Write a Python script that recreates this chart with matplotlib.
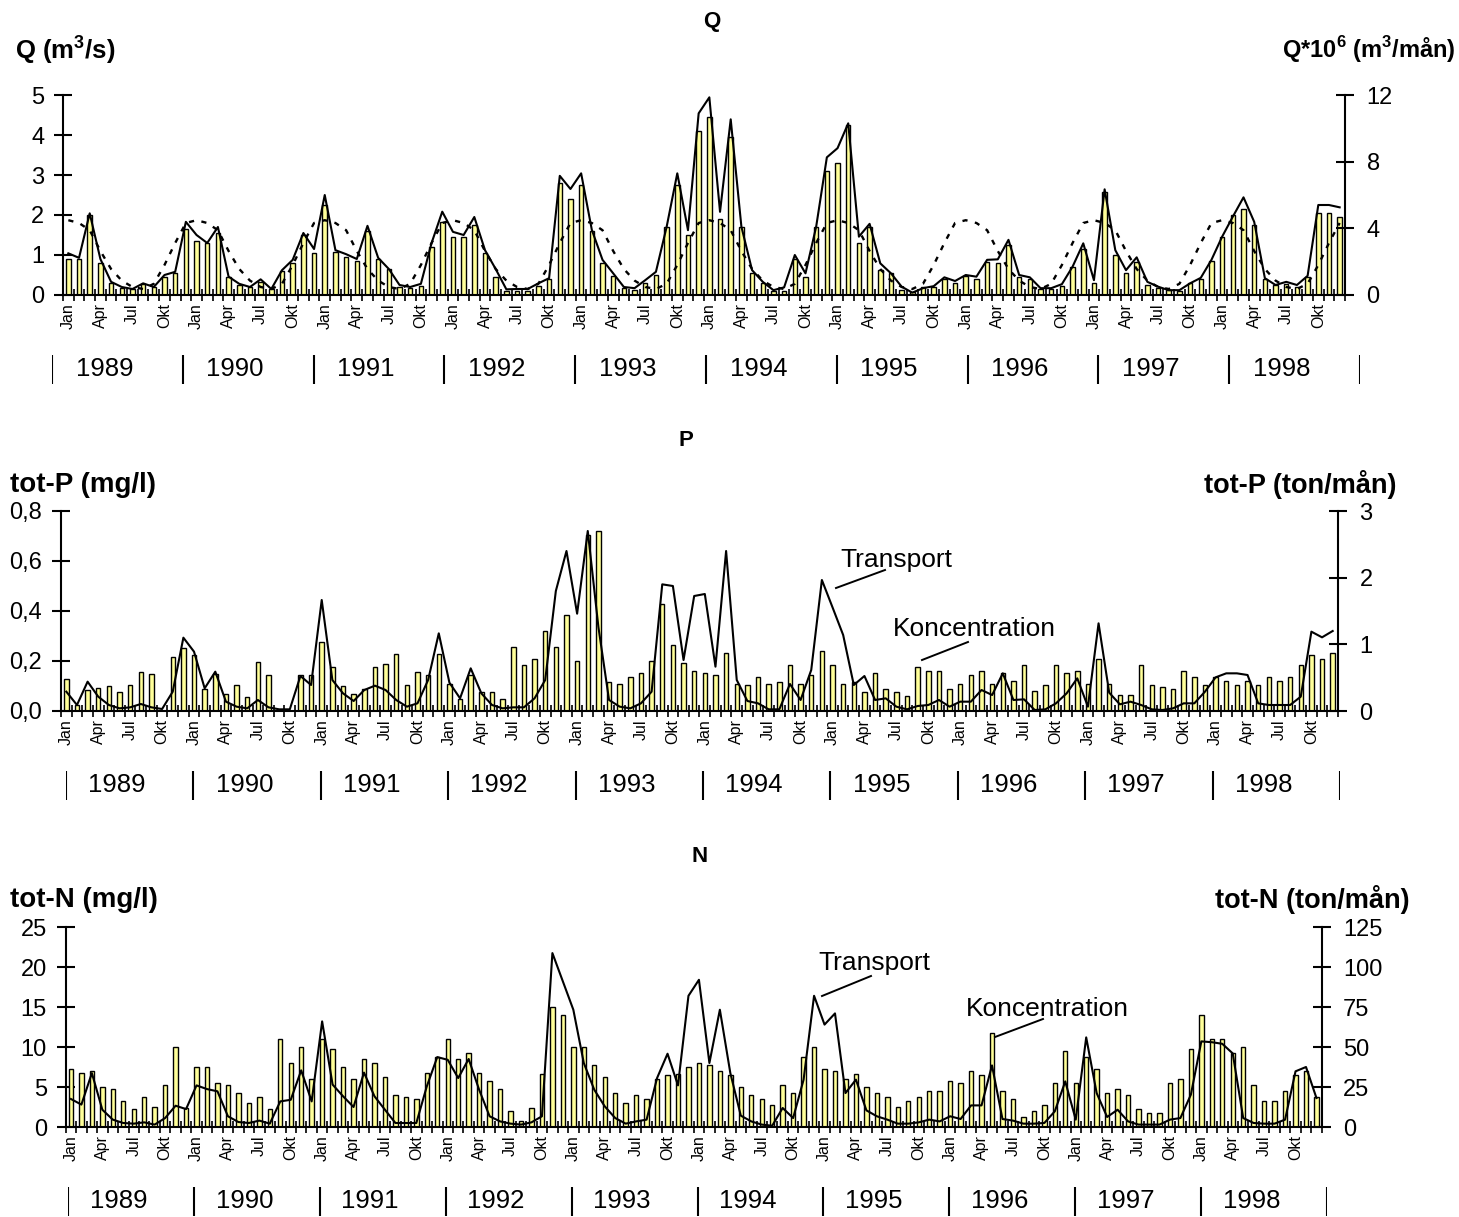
import numpy as np
import matplotlib
matplotlib.use('Agg')
import matplotlib.pyplot as plt
from matplotlib.lines import Line2D

plt.rcParams['font.family'] = ['Liberation Sans', 'DejaVu Sans']
plt.rcParams['mathtext.fontset'] = 'custom'
plt.rcParams['mathtext.rm'] = 'Liberation Sans'
plt.rcParams['mathtext.bf'] = 'Liberation Sans:bold'

# data: monthly values Jan 1989 - Dec 1998
years = ['1989', '1990', '1991', '1992', '1993', '1994', '1995', '1996', '1997', '1998']
month_labels = ['Jan', 'Apr', 'Jul', 'Okt']

# Q: flow (m3/s, bars), volume (10^6 m3/month, line), long-term monthly mean (m3/s, dashed)
q_flow = [0.89, 0.9, 2.0, 0.81, 0.3, 0.17, 0.15, 0.27, 0.2, 0.44, 0.56, 1.65,
          1.35, 1.3, 1.55, 0.44, 0.25, 0.19, 0.33, 0.14, 0.6, 0.81, 1.5, 1.04,
          2.25, 1.08, 0.96, 0.85, 1.6, 0.9, 0.64, 0.2, 0.17, 0.23, 1.2, 1.83,
          1.45, 1.45, 1.75, 1.06, 0.44, 0.11, 0.1, 0.1, 0.23, 0.39, 2.79, 2.4,
          2.74, 1.6, 0.79, 0.48, 0.17, 0.13, 0.29, 0.5, 1.7, 2.74, 1.5, 4.1,
          4.45, 1.89, 3.94, 1.7, 0.54, 0.29, 0.11, 0.11, 0.89, 0.44, 1.7, 3.1,
          3.29, 4.25, 1.29, 1.71, 0.62, 0.54, 0.13, 0.08, 0.19, 0.19, 0.39, 0.3,
          0.48, 0.39, 0.83, 0.81, 1.25, 0.44, 0.39, 0.14, 0.14, 0.22, 0.69, 1.14,
          0.31, 2.57, 1.0, 0.54, 0.83, 0.25, 0.17, 0.12, 0.11, 0.29, 0.39, 0.85,
          1.44, 2.0, 2.14, 1.75, 0.39, 0.25, 0.27, 0.21, 0.46, 2.04, 2.04, 1.96]
q_volume = [2.5, 2.23, 4.9, 2.16, 0.79, 0.48, 0.36, 0.7, 0.48, 1.2, 1.39, 4.39,
            3.6, 3.12, 4.08, 1.1, 0.67, 0.48, 0.94, 0.36, 1.49, 2.11, 3.72, 2.76,
            6.0, 2.69, 2.45, 2.16, 4.15, 2.23, 1.56, 0.6, 0.48, 0.67, 3.12, 5.0,
            3.79, 3.6, 4.68, 2.69, 1.56, 0.34, 0.36, 0.36, 0.7, 1.01, 7.15, 6.36,
            7.3, 3.91, 2.11, 1.3, 0.48, 0.41, 0.89, 1.39, 4.08, 7.3, 3.89, 10.9,
            11.86, 4.99, 10.54, 4.1, 1.49, 0.79, 0.29, 0.46, 2.4, 1.3, 4.1, 8.26,
            8.81, 10.3, 3.5, 4.27, 1.9, 1.3, 0.5, 0.14, 0.41, 0.53, 1.06, 0.84,
            1.2, 1.1, 2.11, 2.14, 3.31, 1.2, 1.06, 0.41, 0.41, 0.65, 1.7, 3.1,
            0.89, 6.34, 2.69, 1.49, 2.26, 0.79, 0.5, 0.29, 0.29, 0.7, 1.03, 2.11,
            3.5, 4.7, 5.86, 4.39, 1.01, 0.6, 0.79, 0.6, 1.15, 5.4, 5.4, 5.26]
q_normal = [1.87, 1.8, 1.62, 1.1, 0.65, 0.36, 0.2, 0.15, 0.28, 0.75, 1.3, 1.8]

# P: concentration (mg/l, bars), transport (ton/month, line)
nan = np.nan
p_conc = [0.127, 0.024, 0.084, 0.093, 0.10, 0.077, 0.103, 0.157, 0.15, nan, 0.215, 0.253,
          0.223, 0.087, 0.15, 0.07, 0.103, 0.055, 0.197, 0.144, nan, nan, 0.144, 0.144,
          0.277, 0.175, 0.10, 0.07, 0.087, 0.175, 0.19, 0.23, 0.103, 0.157, 0.144, 0.23,
          0.11, 0.05, 0.144, 0.077, 0.077, 0.047, 0.255, 0.183, 0.207, 0.319, 0.255, 0.383,
          0.199, 0.704, 0.719, 0.117, 0.11, 0.135, 0.151, 0.199, 0.429, 0.263, 0.191, 0.159,
          0.151, 0.143, 0.231, 0.11, 0.103, 0.135, 0.11, 0.117, 0.183, 0.11, 0.143, 0.239,
          0.183, 0.11, 0.117, 0.077, 0.151, 0.087, 0.075, 0.061, 0.175, 0.159, 0.159, 0.087,
          0.11, 0.143, 0.159, 0.11, 0.151, 0.119, 0.183, 0.079, 0.103, 0.183, 0.151, 0.159,
          0.11, 0.207, 0.11, 0.063, 0.063, 0.183, 0.103, 0.095, 0.087, 0.159, 0.135, 0.103,
          0.135, 0.119, 0.103, 0.119, 0.103, 0.135, 0.119, 0.135, 0.183, 0.223, 0.207, 0.231]
p_transport = [0.29, 0.09, 0.44, 0.215, 0.09, 0.04, 0.055, 0.105, 0.055, 0.03, 0.29, 1.1,
               0.89, 0.34, 0.59, 0.14, 0.065, 0.04, 0.165, 0.055, 0.025, 0.025, 0.525, 0.39,
               1.665, 0.465, 0.265, 0.15, 0.315, 0.38, 0.315, 0.165, 0.065, 0.115, 0.465, 1.165,
               0.425, 0.19, 0.64, 0.265, 0.09, 0.04, 0.055, 0.055, 0.19, 0.465, 1.8, 2.4,
               1.46, 2.7, 1.26, 0.165, 0.065, 0.04, 0.115, 0.29, 1.9, 1.875, 0.765, 1.725,
               1.755, 0.665, 2.4, 0.465, 0.15, 0.115, 0.025, 0.025, 0.405, 0.165, 0.615, 1.965,
               1.555, 1.14, 0.39, 0.525, 0.165, 0.19, 0.065, 0.025, 0.075, 0.09, 0.165, 0.065,
               0.14, 0.14, 0.315, 0.24, 0.565, 0.165, 0.175, 0.015, 0.025, 0.115, 0.265, 0.49,
               0.065, 1.315, 0.275, 0.1, 0.14, 0.09, 0.025, 0.015, 0.04, 0.115, 0.115, 0.29,
               0.505, 0.565, 0.565, 0.54, 0.115, 0.09, 0.09, 0.09, 0.215, 1.19, 1.105, 1.2]

# N: concentration (mg/l, bars), transport (ton/month, line)
n_conc = [7.2, 6.7, 7.0, 5.0, 4.7, 3.2, 2.2, 3.7, 2.5, 5.2, 10.0, 2.4,
          7.5, 7.5, 5.5, 5.2, 4.2, 3.0, 3.7, 2.2, 11.0, 8.0, 10.0, 6.0,
          11.0, 9.7, 7.5, 6.0, 8.5, 8.0, 6.2, 4.0, 3.7, 3.5, 6.7, 8.7,
          11.0, 8.5, 9.2, 6.7, 5.7, 4.7, 1.96, 0.7, 2.4, 6.67, 15.0, 14.0,
          10.0, 10.0, 7.7, 6.2, 4.2, 3.0, 4.0, 3.46, 5.96, 6.46, 6.67, 7.46,
          7.96, 7.7, 6.96, 6.46, 4.96, 3.96, 3.46, 2.7, 5.2, 4.2, 8.75, 10.0,
          7.2, 6.96, 5.96, 6.67, 4.96, 4.2, 3.7, 2.46, 3.2, 3.7, 4.46, 4.46,
          5.7, 5.46, 6.96, 6.46, 11.75, 4.46, 3.46, 1.2, 1.96, 2.7, 5.5, 9.46,
          5.5, 8.75, 7.2, 4.2, 4.7, 3.96, 2.2, 1.7, 1.7, 5.46, 5.96, 9.7,
          14.0, 11.0, 11.0, 9.25, 10.0, 5.2, 3.2, 3.2, 4.46, 6.46, 6.96, 3.7]
n_transport = [17.5, 14, 33.7, 10.8, 4.6, 2.5, 2.1, 2.9, 1.5, 5.6, 13.3, 11.2,
               26, 23.7, 22.3, 6.7, 3.1, 2.5, 4, 2.1, 16, 17, 35.4, 16,
               66, 26.5, 19.2, 12.5, 34, 19.2, 10.8, 2.5, 2.5, 2.5, 25.4, 43.7,
               42, 30.6, 42.5, 23.3, 6.7, 3.5, 2.1, 1.5, 2.9, 6.7, 108.7, 91,
               73.3, 40, 23.3, 12.9, 5.6, 2.1, 3.5, 4.6, 30.6, 45.8, 26, 82,
               92, 40, 73.3, 33.7, 7.1, 3.5, 1.5, 0.8, 11.9, 5.6, 29.6, 82,
               64, 71, 21.2, 29.6, 10.4, 6.7, 4.6, 2.1, 2.1, 2.9, 4.6, 3.5,
               6.7, 5, 13.5, 13.5, 38.5, 5, 4, 2.1, 2.1, 2.5, 9.8, 28.5,
               4.6, 56, 21.2, 6.25, 10.8, 3.5, 1.5, 1.5, 1.5, 4.6, 5.6, 20.2,
               53.5, 53, 52, 46, 5.6, 2.5, 2.1, 2.1, 4.6, 34.8, 37.5, 18.1]

W, H = 1459, 1217
fig = plt.figure(figsize=(W / 100, H / 100), dpi=100)


def fx(x):
    return x / W


def fy(y):
    return 1 - y / H


def panel(x0, x1, ytop, ybot, conc, transport, ylim, yticks, ylabels, rlim, rticks):
    ax = fig.add_axes([fx(x0), fy(ybot), fx(x1 - x0), (ybot - ytop) / H])
    n = len(conc)
    x = np.arange(n)
    ax.bar(x, conc, width=0.42, color='#ffff99', edgecolor='black', linewidth=1.0, zorder=2)
    ax.set_xlim(-0.5, n - 0.5)
    ax.set_ylim(0, ylim)
    ax.set_yticks(yticks)
    ax.set_yticklabels(ylabels, fontsize=17)
    ax.tick_params(axis='y', direction='inout', length=13, width=1.5, pad=7)
    ax.set_xticks(np.arange(0, n, 3))
    ax.set_xticklabels(month_labels * (n // 12), rotation=90, fontsize=11.5)
    ax.tick_params(axis='x', which='major', length=0, pad=6)
    ax.set_xticks(np.arange(-0.5, n, 1), minor=True)
    ax.tick_params(axis='x', which='minor', direction='inout', length=8, width=1.2)
    for s in ['top', 'right']:
        ax.spines[s].set_visible(False)
    ax.spines['left'].set_linewidth(1.5)
    ax.spines['bottom'].set_linewidth(1.5)

    ax2 = ax.twinx()
    ax2.plot(x, transport, color='black', lw=1.5)
    ax2.set_ylim(0, rlim)
    ax2.set_yticks(rticks)
    ax2.set_yticklabels([str(t) for t in rticks], fontsize=17)
    ax2.tick_params(axis='y', direction='inout', length=13, width=1.5, pad=9)
    for s in ['top', 'left', 'bottom']:
        ax2.spines[s].set_visible(False)
    ax2.spines['right'].set_linewidth(1.5)
    return ax, ax2


def year_row(x0, x1, ytop, ybot):
    ay = fig.add_axes([fx(x0), fy(ybot), fx(x1 - x0), (ybot - ytop) / H])
    ay.set_xlim(0, len(years))
    ay.set_ylim(0, 1)
    ay.axis('off')
    ay.vlines(np.arange(len(years) + 1), 0, 1, color='black', lw=1.5)
    for k, yr in enumerate(years):
        ay.text(k + 0.40, 0.5, yr, ha='center', va='center', fontsize=18.5)


def leader(text, tx, ty, xa, ya, xb, yb):
    fig.text(fx(tx), fy(ty), text, ha='left', va='center', fontsize=19)
    fig.add_artist(Line2D([fx(xa), fx(xb)], [fy(ya), fy(yb)], color='black', lw=1.4,
                          transform=fig.transFigure))


def label(x, y, text, ha, size=18):
    fig.text(fx(x), fy(y), text, ha=ha, va='center', fontsize=size, fontweight='bold')


# Q panel
axq, axq2 = panel(63, 1345, 95, 295, q_flow, q_volume, 5, [0, 1, 2, 3, 4, 5],
                  ['0', '1', '2', '3', '4', '5'], 12, [0, 4, 8, 12])
axq.plot(np.arange(len(q_flow)), np.tile(q_normal, len(years)), color='black', lw=1.7,
         dashes=(2.2, 3.2), zorder=3)
year_row(52, 1360, 355, 384)
label(712, 22, 'Q', 'center', 16)
label(15, 50, r'Q (m$^{\mathbf{3}}$/s)', 'left', 18.5)
label(1455, 50, r'Q*10$^{\mathbf{6}}$ (m$^{\mathbf{3}}$/mån)', 'right', 17)

# P panel
panel(61, 1338, 511, 711, p_conc, p_transport, 0.8, [0, 0.2, 0.4, 0.6, 0.8],
      ['0,0', '0,2', '0,4', '0,6', '0,8'], 3, [0, 1, 2, 3])
year_row(66, 1340, 771, 800)
label(686, 440, 'P', 'center', 16)
label(10, 485, 'tot-P (mg/l)', 'left', 20)
label(1397, 485, 'tot-P (ton/mån)', 'right', 19.5)
leader('Transport', 840, 560, 836, 588, 885, 570)
leader('Koncentration', 893, 629, 922, 660, 968, 642)

# N panel
panel(65.7, 1321.7, 927, 1127, n_conc, n_transport, 25, [0, 5, 10, 15, 20, 25],
      ['0', '5', '10', '15', '20', '25'], 125, [0, 25, 50, 75, 100, 125])
year_row(68, 1327, 1187, 1216)
label(700, 857, 'N', 'center', 16)
label(10, 900, 'tot-N (mg/l)', 'left', 20)
label(1410, 900, 'tot-N (ton/mån)', 'right', 19.5)
leader('Transport', 818, 963, 822, 996, 871, 976)
leader('Koncentration', 966, 1009, 995, 1037, 1043, 1019)

fig.savefig('out.png', dpi=100)
